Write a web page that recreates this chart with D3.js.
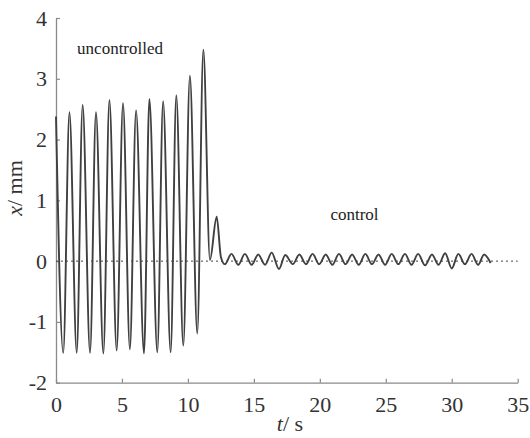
<!DOCTYPE html>
<html>
<head>
<meta charset="utf-8">
<script src="https://cdn.jsdelivr.net/npm/d3@7"></script>
<style>
  body { margin: 0; background: #fff; }
  svg { display: block; }
</style>
</head>
<body>
<svg id="chart" width="530" height="438"></svg>
<script>
// extrema of the displacement trace (t in s, x in mm)
const uncontrolledT = [0.0, 0.55, 1.02, 1.57, 2.02, 2.58, 3.03, 3.59, 4.05, 4.6, 5.08, 5.6,
	6.07, 6.67, 7.08, 7.68, 8.12, 8.69, 9.12, 9.65, 10.15, 10.71, 11.17, 11.67, 12.18, 12.5];
const uncontrolledX = [2.38, -1.51, 2.45, -1.51, 2.57, -1.51, 2.45, -1.52, 2.65, -1.47, 2.6, -1.45,
	2.48, -1.52, 2.67, -1.5, 2.63, -1.5, 2.73, -1.39, 3.05, -1.19, 3.48, 0.02, 0.73, 0.07];

const controlT = [12.8, 13.3, 13.82, 14.32, 14.83, 15.33, 15.85, 16.35, 16.9, 17.38, 17.95, 18.45,
	18.95, 19.45, 19.95, 20.45, 20.95, 21.45, 21.95, 22.45, 22.95, 23.45, 23.95, 24.45, 24.95,
	25.45, 25.95, 26.45, 26.95, 27.45, 27.98, 28.5, 29.0, 29.5, 30.0, 30.5, 31.0, 31.5, 32.0,
	32.45, 32.95];
const controlX = [-0.05, 0.12, -0.06, 0.12, -0.06, 0.11, -0.06, 0.14, -0.13, 0.1, -0.05, 0.11,
	-0.05, 0.12, -0.05, 0.11, -0.06, 0.12, -0.05, 0.11, -0.06, 0.12, -0.05, 0.11, -0.06,
	0.12, -0.05, 0.12, -0.06, 0.12, -0.07, 0.11, -0.06, 0.13, -0.12, 0.12, -0.05, 0.12, -0.06,
	0.11, -0.03];

const xTicks = [0, 5, 10, 15, 20, 25, 30, 35];
const yTicks = [-2, -1, 0, 1, 2, 3, 4];

const labels = [
	{ text: "uncontrolled", t: 1.6, x: 3.4 },
	{ text: "control", t: 20.8, x: 0.68 }
];

const svg = d3.select("#chart");
const font = "'Liberation Serif', 'Times New Roman', serif";
const axisColor = "#8a8a8a";
const textColor = "#333";

const x = d3.scaleLinear().domain([0, 35]).range([56, 517.7]);
const y = d3.scaleLinear().domain([-2, 4]).range([382.7, 18]);

// plain hyphen minus like the original figure
const plain = function(d) { return String(d); };

// axes, ticks pointing inward
const xAxis = svg.append("g")
	.attr("transform", "translate(0," + y(-2) + ")")
	.call(d3.axisBottom(x).tickValues(xTicks).tickFormat(plain)
		.tickSizeInner(-4).tickSizeOuter(0).tickPadding(14));

const yAxis = svg.append("g")
	.attr("transform", "translate(" + x(0) + ",0)")
	.call(d3.axisLeft(y).tickValues(yTicks).tickFormat(plain)
		.tickSizeInner(-4).tickSizeOuter(0).tickPadding(9));

[xAxis, yAxis].forEach(function(g) {
	g.attr("font-family", null).attr("font-size", null);
	g.select(".domain").attr("stroke", axisColor).attr("stroke-width", 1.3);
	g.selectAll(".tick line").attr("stroke", axisColor).attr("stroke-width", 1.2);
	g.selectAll(".tick text")
		.attr("fill", textColor)
		.style("font-family", font)
		.style("font-size", "22px");
});

// zero reference line
svg.append("line")
	.attr("x1", x(0)).attr("x2", x(35))
	.attr("y1", y(0)).attr("y2", y(0))
	.attr("stroke", "#444")
	.attr("stroke-width", 1)
	.attr("stroke-dasharray", "2,3");

const points = uncontrolledT.map(function(t, i) { return [t, uncontrolledX[i]]; })
	.concat(controlT.map(function(t, i) { return [t, controlX[i]]; }));

const line = d3.line()
	.x(function(d) { return x(d[0]); })
	.y(function(d) { return y(d[1]); })
	.curve(d3.curveMonotoneX);

svg.append("path")
	.datum(points)
	.attr("fill", "none")
	.attr("stroke", "#404040")
	.attr("stroke-width", 1.9)
	.attr("stroke-linejoin", "round")
	.attr("d", line);

// annotations
svg.selectAll("text.note")
	.data(labels)
	.enter().append("text")
		.attr("class", "note")
		.attr("x", function(d) { return x(d.t); })
		.attr("y", function(d) { return y(d.x); })
		.style("font-family", font)
		.style("font-size", "17px")
		.attr("fill", "#222")
		.text(function(d) { return d.text; });

// axis titles
const xTitle = svg.append("text")
	.attr("x", 290)
	.attr("y", 431)
	.attr("text-anchor", "middle")
	.style("font-family", font)
	.style("font-size", "22px")
	.attr("fill", textColor);
xTitle.append("tspan").attr("font-style", "italic").text("t");
xTitle.append("tspan").text("/ s");

const yTitle = svg.append("text")
	.attr("transform", "translate(22,188) rotate(-90)")
	.attr("text-anchor", "middle")
	.style("font-family", font)
	.style("font-size", "22px")
	.attr("fill", textColor);
yTitle.append("tspan").attr("font-style", "italic").text("x");
yTitle.append("tspan").text("/ mm");
</script>
</body>
</html>
